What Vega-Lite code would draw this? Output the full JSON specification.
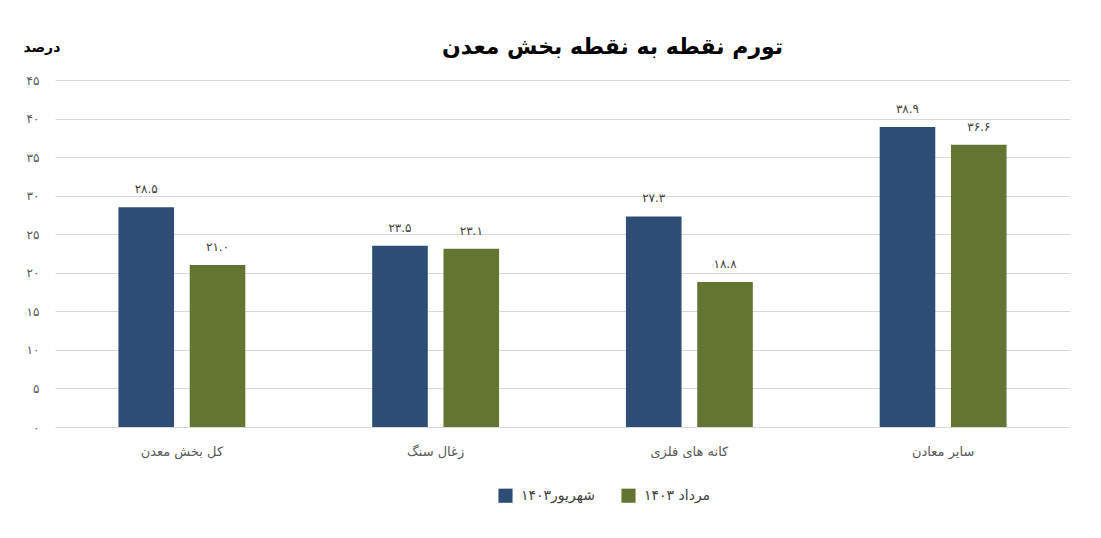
{
  "$schema": "https://vega.github.io/schema/vega-lite/v6.json",
  "width": 1015,
  "height": 347,
  "autosize": {"type": "none"},
  "padding": {"left": 55, "top": 80, "right": 31, "bottom": 111},
  "background": "white",
  "title": {
    "text": "تورم نقطه به نقطه بخش معدن",
    "anchor": "middle",
    "dx": 50,
    "offset": -19,
    "fontSize": 22,
    "fontWeight": "bold",
    "font": "DejaVu Sans",
    "color": "#000000"
  },
  "data": {
    "values": [
      {"category": "کل بخش معدن", "series": "شهریور۱۴۰۳", "value": 28.5, "label": "۲۸.۵"},
      {"category": "کل بخش معدن", "series": "مرداد ۱۴۰۳", "value": 21.0, "label": "۲۱.۰"},
      {"category": "زغال سنگ", "series": "شهریور۱۴۰۳", "value": 23.5, "label": "۲۳.۵"},
      {"category": "زغال سنگ", "series": "مرداد ۱۴۰۳", "value": 23.1, "label": "۲۳.۱"},
      {"category": "کانه های فلزی", "series": "شهریور۱۴۰۳", "value": 27.3, "label": "۲۷.۳"},
      {"category": "کانه های فلزی", "series": "مرداد ۱۴۰۳", "value": 18.8, "label": "۱۸.۸"},
      {"category": "سایر معادن", "series": "شهریور۱۴۰۳", "value": 38.9, "label": "۳۸.۹"},
      {"category": "سایر معادن", "series": "مرداد ۱۴۰۳", "value": 36.6, "label": "۳۶.۶"}
    ]
  },
  "encoding": {
    "x": {
      "field": "category",
      "type": "nominal",
      "sort": null,
      "scale": {"paddingInner": 0.5, "paddingOuter": 0.25},
      "axis": {
        "title": null,
        "labelAngle": 0,
        "domain": false,
        "ticks": false,
        "labelPadding": 18,
        "labelFontSize": 13,
        "labelColor": "#595959",
        "labelFont": "DejaVu Sans"
      }
    },
    "xOffset": {"field": "series", "type": "nominal", "sort": null, "scale": {"paddingInner": 0.22}},
    "y": {
      "field": "value",
      "type": "quantitative",
      "scale": {"domain": [0, 45], "nice": false},
      "axis": {
        "values": [0, 5, 10, 15, 20, 25, 30, 35, 40, 45],
        "title": "درصد",
        "titleAngle": 0,
        "titleAlign": "left",
        "titleBaseline": "middle",
        "titleX": -32,
        "titleY": -33,
        "titleFontSize": 14,
        "titleFontWeight": "bold",
        "titleFont": "DejaVu Sans",
        "titleColor": "#000000",
        "domain": false,
        "ticks": false,
        "grid": true,
        "gridColor": "#d9d9d9",
        "gridWidth": 1,
        "labelPadding": 16,
        "labelFontSize": 12,
        "labelColor": "#595959",
        "labelFont": "DejaVu Sans",
        "labelExpr": "replace(replace(replace(replace(replace(replace(replace(replace(replace(replace(datum.label,/0/g,'۰'),/1/g,'۱'),/2/g,'۲'),/3/g,'۳'),/4/g,'۴'),/5/g,'۵'),/6/g,'۶'),/7/g,'۷'),/8/g,'۸'),/9/g,'۹')"
      }
    }
  },
  "layer": [
    {
      "mark": {"type": "bar"},
      "encoding": {
        "color": {
          "field": "series",
          "type": "nominal",
          "sort": null,
          "scale": {"domain": ["شهریور۱۴۰۳", "مرداد ۱۴۰۳"], "range": ["#2E4D74", "#637531"]},
          "legend": {
            "title": null,
            "orient": "none",
            "direction": "horizontal",
            "legendX": 443,
            "legendY": 408,
            "symbolType": "square",
            "symbolSize": 200,
            "symbolStrokeWidth": 0,
            "labelFontSize": 14,
            "labelFont": "DejaVu Sans",
            "labelColor": "#404040",
            "columnPadding": 26,
            "labelOffset": 8
          }
        }
      }
    },
    {
      "mark": {"type": "text", "baseline": "bottom", "dy": -11, "fontSize": 12, "font": "DejaVu Sans", "color": "#404040"},
      "encoding": {
        "text": {"field": "label"}
      }
    }
  ],
  "config": {
    "view": {"stroke": null}
  }
}
